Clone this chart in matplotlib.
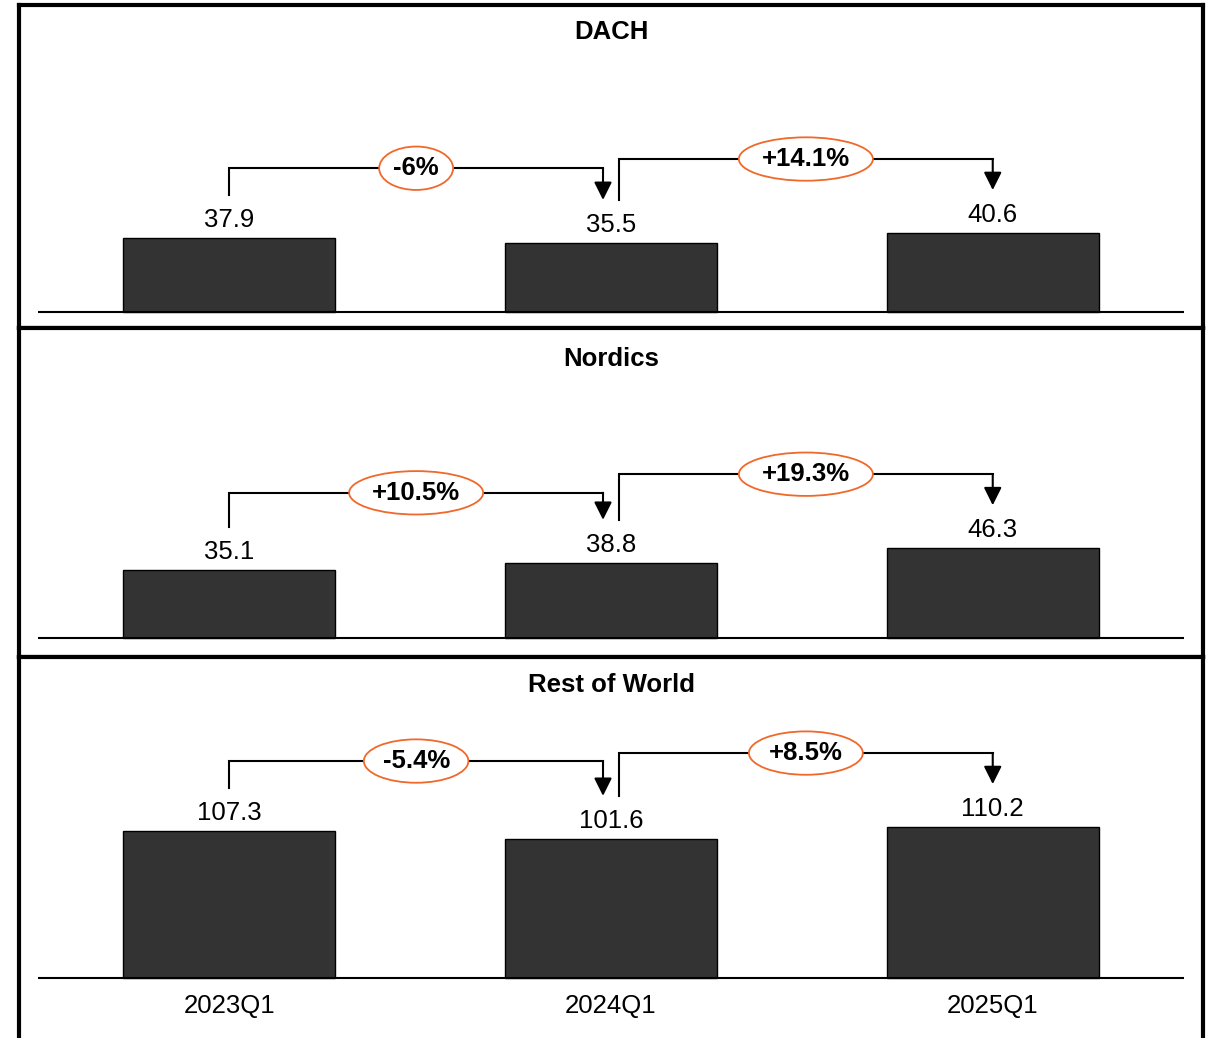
import numpy as np
import matplotlib.pyplot as plt

plt.rcParams['font.family'] = ['Liberation Sans', 'DejaVu Sans']

quarters = ['2023Q1', '2024Q1', '2025Q1']
regions = ['DACH', 'Nordics', 'Rest of World']
dach = [37.9, 35.5, 40.6]
nordics = [35.1, 38.8, 46.3]
rest_of_world = [107.3, 101.6, 110.2]
dach_growth = ['-6%', '+14.1%']
nordics_growth = ['+10.5%', '+19.3%']
rest_of_world_growth = ['-5.4%', '+8.5%']

W, H = 1216, 1038
fig = plt.figure(figsize=(W / 100, H / 100), dpi=100)

# panel boxes in pixels (top, bottom) and y ranges
boxes = [(4.7, 328.3), (328.3, 657.3), (657.3, 1045)]
ylims = [(-8.6, 158.5), (-9.8, 159.4), (-49.2, 234.4)]
left_px, right_px = 19.3, 1202.7

bar_color = '#333333'
orange = '#F0682A'
fs = 18.5


def px(ax, n):
    # n pixels expressed in y data units
    h_px = ax.get_position().height * H
    y0, y1 = ax.get_ylim()
    return n * (y1 - y0) / h_px


series = [dach, nordics, rest_of_world]
growths = [dach_growth, nordics_growth, rest_of_world_growth]
title_offsets = [-20, -22, -20]

for idx, (name, vals, growth, (top, bot), ylim) in enumerate(zip(regions, series, growths, boxes, ylims)):
    ax = fig.add_axes([left_px / W, 1 - bot / H, (right_px - left_px) / W, (bot - top) / H])
    x = np.arange(len(quarters))
    ax.bar(x, vals, width=0.556, color=bar_color, edgecolor='black', linewidth=1, zorder=2)
    ax.hlines(0, -0.5, 2.5, color='black', linewidth=1.5, zorder=3)
    ax.set_xlim(-0.55, 2.55)
    ax.set_ylim(ylim)
    ax.set_xticks([])
    ax.set_yticks([])
    for s in ax.spines.values():
        s.set_linewidth(3)
        s.set_color('black')

    ax.annotate(name, (0.5, 1), xycoords='axes fraction', xytext=(0, title_offsets[idx]),
                textcoords='offset points', ha='center', va='center',
                fontsize=fs, fontweight='bold')

    for i, v in enumerate(vals):
        ax.annotate(f'{v}', (i, v), xytext=(0, 8), textcoords='offset points',
                    ha='center', va='baseline', fontsize=fs)

    # growth brackets between consecutive quarters
    gap = px(ax, 43)
    rises = [px(ax, 27), px(ax, 31)]
    nudge = 8 / 382
    for k in range(2):
        a, b = k, k + 1
        xa = a + (nudge if k == 1 else 0)
        xb = b - (nudge if k == 0 else 0)
        ya = vals[a] + gap
        yb = vals[b] + gap
        level = max(vals[a], vals[b]) + gap + rises[k]
        ax.plot([xa, xa, xb], [ya, level, level], color='black', linewidth=1.5,
                solid_joinstyle='miter', zorder=3)
        ax.annotate('', xy=(xb, yb), xytext=(xb, level),
                    arrowprops=dict(arrowstyle='-|>', color='black', lw=1.5,
                                    mutation_scale=27, shrinkA=0, shrinkB=0),
                    zorder=3)
        ax.text((xa + xb) / 2, level, growth[k], ha='center', va='center',
                fontsize=fs, fontweight='bold', zorder=5,
                bbox=dict(boxstyle='ellipse,pad=0.13', fc='white', ec=orange, lw=1.3))

    if idx == len(regions) - 1:
        for i, q in enumerate(quarters):
            ax.annotate(q, (i, 0), xytext=(0, -20), textcoords='offset points',
                        ha='center', va='center', fontsize=fs)

fig.savefig('out.png', dpi=100)
